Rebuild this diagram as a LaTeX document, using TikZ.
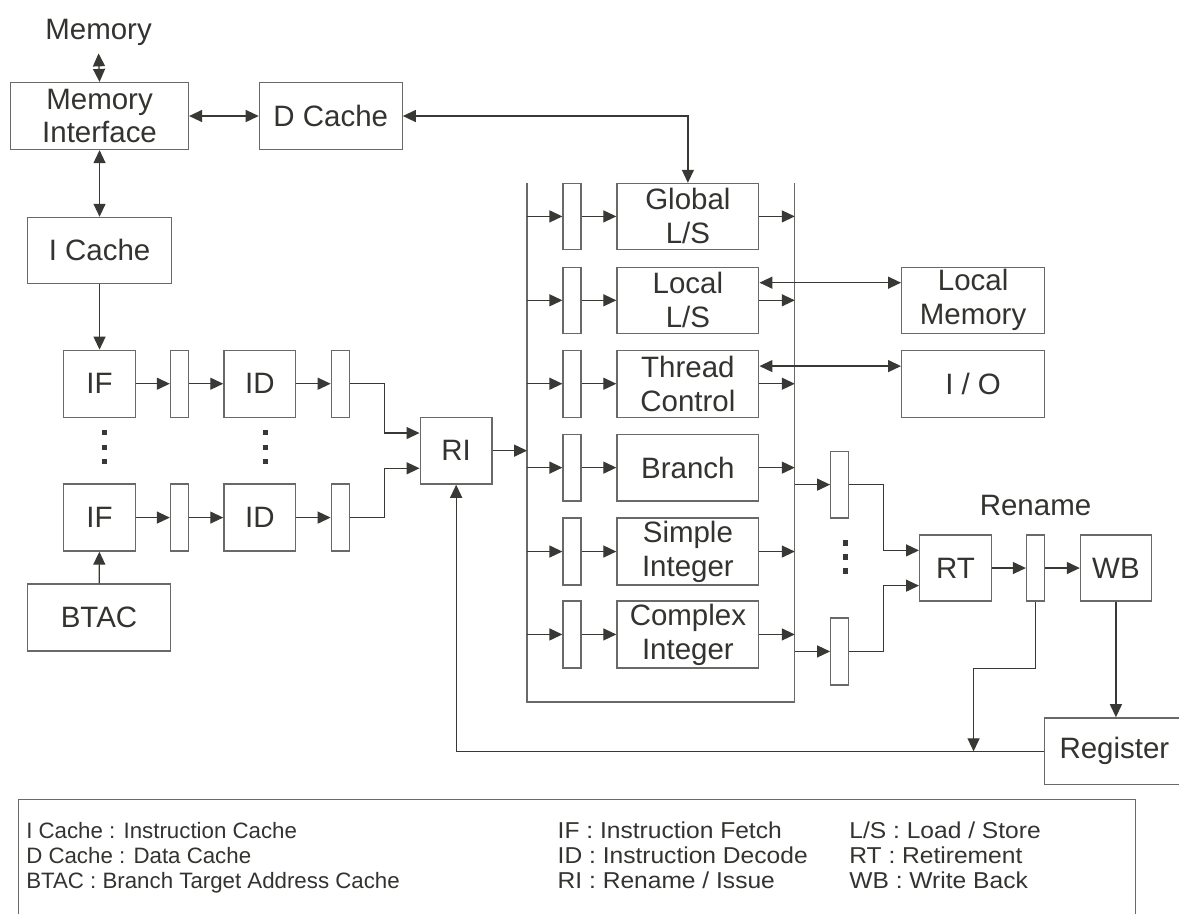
\documentclass[tikz,border=0pt]{standalone}
\usepackage{fontspec}
\setmainfont{Liberation Sans}
\newfontfamily\legwide[FakeStretch=1.07]{Liberation Sans}
\usetikzlibrary{arrows.meta,calc}
\definecolor{ln}{RGB}{105,105,103}
\definecolor{tx}{RGB}{50,52,48}
\definecolor{hd}{RGB}{55,57,53}
\begin{document}
\begin{tikzpicture}[x=1pt,y=-1pt,
  line width=1.3pt,
  every path/.style={draw=ln},
  blk/.style={draw=ln, line width=1.3pt, fill=white, inner sep=0pt, text=tx,
    font=\fontsize{29.5}{34}\selectfont, align=center},
  bx/.style={blk, minimum width=#1},
  reg/.style={draw=ln, line width=1.3pt, fill=white, inner sep=0pt,
    minimum width=18pt, minimum height=67pt},
  lbl/.style={inner sep=0pt, text=tx, font=\fontsize{29.5}{34}\selectfont},
  leg/.style={inner sep=0pt, text=tx, font=\legwide\fontsize{23}{28}\selectfont, anchor=base west},
  legs/.style={leg, font=\fontsize{22.3}{26}\selectfont},
  arr/.style={-{Triangle[length=13pt,width=12pt]}, draw=ln, color=hd, line width=1.3pt},
  darr/.style={{Triangle[length=13pt,width=12pt]}-{Triangle[length=13pt,width=12pt]}, draw=ln, color=hd, line width=1.3pt},
  dot/.style={fill=hd, draw=none}
]
\useasboundingbox (0,0) rectangle (1179,913);
\fill[white] (0,0) rectangle (1179,913);

% top part
\node[lbl, anchor=base] (mem) at (98,39) {Memory};
\node[bx=178pt, minimum height=67pt] (mi) at (99,115.5) {Memory\\Interface};
\node[bx=143pt, minimum height=67pt] (dc) at (330.5,115.5) {D Cache};
\node[bx=144pt, minimum height=66pt] (ic) at (99,250) {I Cache};

% fetch / decode
\node[bx=72pt, minimum height=67pt] (if1) at (99,383.5) {IF};
\node[reg] (r1) at (179,383.5) {};
\node[bx=72pt, minimum height=67pt] (id1) at (259.5,383.5) {ID};
\node[reg] (r2) at (340,383.5) {};
\node[bx=72pt, minimum height=67pt] (if2) at (99,517.5) {IF};
\node[reg] (r3) at (179,517.5) {};
\node[bx=72pt, minimum height=67pt] (id2) at (259.5,517.5) {ID};
\node[reg] (r4) at (340,517.5) {};
\node[bx=143pt, minimum height=67pt] (btac) at (98.5,617.5) {BTAC};
\node[bx=72pt, minimum height=67pt] (ri) at (456,450.5) {RI};

% execution units
\coordinate (busTL) at (527,183);
\coordinate (busBL) at (527,702);
\coordinate (busBR) at (795,702);
\coordinate (busTR) at (795,183);
\draw (busTL) -- (busBL) -- (busBR) -- (busTR);

\node[reg, minimum height=66pt] (u1r) at (572,216) {};
\node[bx=142pt, minimum height=66pt] (u1) at (688,216) {Global\\L/S};
\node[reg, minimum height=66pt] (u2r) at (572,300) {};
\node[bx=142pt, minimum height=66pt] (u2) at (688,300) {Local\\L/S};
\node[reg] (u3r) at (572,383.5) {};
\node[bx=142pt, minimum height=67pt] (u3) at (688,383.5) {Thread\\Control};
\node[reg] (u4r) at (572,467.5) {};
\node[bx=142pt, minimum height=67pt] (u4) at (688,467.5) {Branch};
\node[reg] (u5r) at (572,551.5) {};
\node[bx=142pt, minimum height=67pt] (u5) at (688,551.5) {Simple\\Integer};
\node[reg] (u6r) at (572,634.5) {};
\node[bx=142pt, minimum height=67pt] (u6) at (688,634.5) {Complex\\Integer};

\node[bx=143pt, minimum height=66pt] (lm) at (973.5,300) {Local\\Memory};
\node[bx=143pt, minimum height=67pt] (io) at (973.5,383.5) {I / O};

% retirement
\node[reg] (r5) at (840,484.5) {};
\node[reg] (r6) at (840,651.5) {};
\node[bx=72pt, minimum height=66pt] (rt) at (956,568) {RT};
\node[reg, minimum height=66pt] (r7) at (1036,568) {};
\node[bx=71pt, minimum height=66pt] (wb) at (1116.5,568) {WB};
\node[lbl] (ren) at (1036,505) {Rename};
\node[bx=140pt, minimum height=67pt] (rg) at (1115,751.5) {Register};

\coordinate (jl) at (384,0);
\coordinate (jr) at (884,0);
\coordinate (fbj) at (974,751.5);

% dots
\foreach \x in {104,265} {
  \foreach \y in {432,447,461} {
    \fill[dot] (\x-2.6,\y-2.6) rectangle (\x+2.6,\y+2.6);
  }
}
\foreach \y in {543,557,571} {
  \fill[dot] (846-2.6,\y-2.6) rectangle (846+2.6,\y+2.6);
}

% connectors top
\draw[darr] ([yshift=-7pt]mem.south) -- (mi.north);
\draw[darr] (mi) -- (dc);
\draw[darr] (mi) -- (ic);
\draw[darr] (dc.east) -| (u1.north);
\draw[arr] (ic) -- (if1);
\draw[arr] (btac) -- (if2);

% pipeline
\draw[arr] (if1) -- (r1);
\draw[arr] (r1) -- (id1);
\draw[arr] (id1) -- (r2);
\draw[arr] (if2) -- (r3);
\draw[arr] (r3) -- (id2);
\draw[arr] (id2) -- (r4);
\draw[arr] (r2.east) -- (r2.east -| jl) |- ($(ri.north west)+(0,16.5)$);
\draw[arr] (r4.east) -- (r4.east -| jl) |- ($(ri.south west)+(0,-16.5)$);
\draw[arr] (ri.east) -- (ri.east -| busTL);

% units
\foreach \u in {1,...,6} {
  \draw[arr] (u\u r.west -| busTL) -- (u\u r.west);
  \draw[arr] (u\u r) -- (u\u);
  \draw[arr] (u\u.east) -- (u\u.east -| busTR);
}
\draw[darr] ($(u2.north east)+(0,16)$) -- ($(lm.north west)+(0,16)$);
\draw[darr] ($(u3.north east)+(0,16.5)$) -- ($(io.north west)+(0,16.5)$);

% retirement connectors
\draw[arr] (r5.west -| busTR) -- (r5.west);
\draw[arr] (r6.west -| busTR) -- (r6.west);
\draw[arr] (r5.east) -- (r5.east -| jr) |- ($(rt.north west)+(0,16)$);
\draw[arr] (r6.east) -- (r6.east -| jr) |- ($(rt.south west)+(0,-16)$);
\draw[arr] (rt) -- (r7);
\draw[arr] (r7) -- (wb);
\draw[arr] (r7.south) -- ++(0,67) -| (fbj);
\draw[arr] (wb.south) -- (wb.south |- rg.north);
\draw[arr] (rg.west) -| (ri.south);

% legend
\draw (18,925) -- (18,800) -- (1136,800) -- (1136,925);
\node[legs] (l1) at (25,839) {I Cache : Instruction Cache};
\node[legs] (l2) at (25,864) {D Cache : Data Cache};
\node[legs] (l3) at (25,889) {BTAC : Branch Target Address Cache};
\node[leg] (l4) at (557,839) {IF : Instruction Fetch};
\node[leg] (l5) at (557,864) {ID : Instruction Decode};
\node[leg] (l6) at (557,889) {RI : Rename / Issue};
\node[leg] (l7) at (849,839) {L/S : Load / Store};
\node[leg] (l8) at (849,864) {RT : Retirement};
\node[leg] (l9) at (849,889) {WB : Write Back};
\end{tikzpicture}
\end{document}
